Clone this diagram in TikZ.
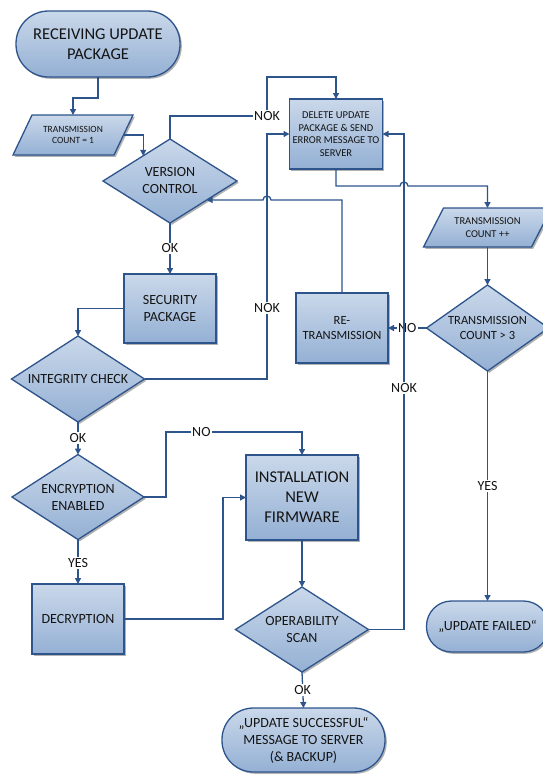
\documentclass[tikz,border=0pt]{standalone}
\usepackage{fontspec}
\setmainfont{Carlito}
\usetikzlibrary{shapes.geometric,shadows,arrows.meta,calc,backgrounds}
\definecolor{bd}{RGB}{46,84,140}
\definecolor{ftop}{RGB}{202,216,234}
\definecolor{fbot}{RGB}{148,176,212}
\definecolor{txt}{RGB}{20,20,20}
\newcommand{\FBig}{\fontsize{16.5}{20}\selectfont}
\newcommand{\FMed}{\fontsize{14}{17}\selectfont}
\newcommand{\FSm}{\fontsize{12.5}{15}\selectfont}
\newcommand{\FXs}{\fontsize{10.5}{12.6}\selectfont}
\newcommand{\FXxs}{\fontsize{9.5}{11.7}\selectfont}
\tikzset{
  shapebase/.style={draw=bd, line width=1.3pt, top color=ftop, bottom color=fbot,
    drop shadow={shadow xshift=1.8pt, shadow yshift=-1.8pt, fill=black, opacity=0.3}},
  base/.style={shapebase, align=center, inner sep=0pt, outer sep=0pt, text=txt},
  procbox/.style={base, rectangle},
  decis/.style={base, diamond},
  term/.style={base, rectangle},
  txtonly/.style={rectangle, align=center, inner sep=0pt, outer sep=0pt, text=txt},
  lbl/.style={fill=white, inner sep=1.2pt, font=\FMed, text=txt},
  arr/.style={draw=bd, line width=1.3pt, -{Triangle[length=6pt,width=6pt]}}
}
\begin{document}
\begin{tikzpicture}[x=1pt,y=-1pt]
\useasboundingbox (0,0) rectangle (543,774);

% nodes
\node[term, minimum width=164pt, minimum height=66pt, rounded corners=32.5pt, font=\FBig] (start) at (98,44) {RECEIVING UPDATE\\PACKAGE};
\node[txtonly, minimum width=101pt, minimum height=40pt, font=\FXxs] (tc1) at (73,135) {TRANSMISSION\\COUNT = 1};
\node[decis, minimum width=134pt, minimum height=84pt, aspect=1.6, font=\FMed] (vc) at (170,181) {VERSION\\CONTROL};
\node[procbox, minimum width=93pt, minimum height=70pt, font=\FXs] (del) at (336,134) {DELETE UPDATE\\PACKAGE \& SEND\\ERROR MESSAGE TO\\SERVER};
\node[txtonly, minimum width=108pt, minimum height=39pt, font=\FXs] (tcpp) at (487.5,227.5) {TRANSMISSION\\COUNT ++};
\node[decis, minimum width=122pt, minimum height=86pt, aspect=1.42, font=\FSm] (tcg) at (487.5,328) {TRANSMISSION\\COUNT > 3};
\node[procbox, minimum width=92pt, minimum height=70pt, font=\FSm] (rt) at (342,328) {RE-\\TRANSMISSION};
\node[procbox, minimum width=92pt, minimum height=69pt, font=\FMed] (sec) at (170,308.5) {SECURITY\\PACKAGE};
\node[decis, minimum width=133pt, minimum height=86pt, aspect=1.55, font=\FMed] (ic) at (78,379) {INTEGRITY CHECK};
\node[decis, minimum width=132pt, minimum height=85pt, aspect=1.55, font=\FMed] (enc) at (78,497) {ENCRYPTION\\ENABLED};
\node[procbox, minimum width=92pt, minimum height=70pt, font=\FMed] (dec) at (78,619) {DECRYPTION};
\node[procbox, minimum width=112pt, minimum height=85pt, font=\FBig] (inst) at (302,497.5) {INSTALLATION\\NEW\\FIRMWARE};
\node[decis, minimum width=133pt, minimum height=85pt, aspect=1.56, font=\FMed] (os) at (302,629.5) {OPERABILITY\\SCAN};
\node[term, minimum width=163pt, minimum height=64pt, rounded corners=31.5pt, font=\FMed] (us) at (303.5,740) {„UPDATE SUCCESSFUL“\\MESSAGE TO SERVER\\(\& BACKUP)};
\node[term, minimum width=122pt, minimum height=51pt, rounded corners=25pt, font=\FMed] (uf) at (487.5,626.5) {„UPDATE FAILED“};

% parallelogram outlines and white page on the background layer
\begin{scope}[on background layer]
\fill[white] (0,0) rectangle (543,774);
\path[shapebase] ($(tc1.south west)+(-9.5,0)$) -- ($(tc1.south east)+(-9.5,0)$) -- ($(tc1.north east)+(9.5,0)$) -- ($(tc1.north west)+(9.5,0)$) -- cycle;
\path[shapebase] ($(tcpp.south west)+(-10,0)$) -- ($(tcpp.south east)+(-10,0)$) -- ($(tcpp.north east)+(10,0)$) -- ($(tcpp.north west)+(10,0)$) -- cycle;
\end{scope}

% connectors
\draw[arr] (start.south) -- (98,98) -| (tc1.north);
\draw[arr] (tc1.east) -| ($(vc.north)!0.4!(vc.west)$);
\coordinate (k1) at (267,116);
\draw[arr] (vc.north) |- (k1) |- (336,77) -- (del.north);
\node[lbl] at (k1) {NOK};
\draw[arr] (vc.south) -- node[lbl]{OK} (sec.north);
\draw[arr] (sec.west) -| (ic.north);
\draw[arr] (ic.east) -- (267,379) -- node[lbl,pos=0.29]{NOK} (267,134) -- (del.west);
\coordinate (p7) at ($(vc.east)!0.452!(vc.south)$);
\draw[arr] (rt.north) -- (342,200) -- (271,200) arc[start angle=0, end angle=180, radius=4pt] -- (p7);
\draw[arr] (del.south) -- (336,186) -- (400,186) arc[start angle=180, end angle=0, radius=4pt] -- (487.5,186) -- (tcpp.north);
\draw[arr] (tcpp.south) -- (tcg.north);
\draw[arr] (tcg.west) -- node[lbl]{NO} (rt.east);
\draw[arr] (tcg.south) -- node[lbl]{YES} (uf.north);
\draw[arr] (ic.south) -- node[lbl]{OK} (enc.north);
\draw[arr] (enc.south) -- node[lbl,pos=0.53]{YES} (dec.north);
\draw[arr] (enc.east) -- (166,497) -- (166,432) -- node[lbl,pos=0.26]{NO} (302,432) -- (inst.north);
\draw[arr] (dec.east) -- (223,619) |- (inst.west);
\draw[arr] (inst.south) -- (os.north);
\draw[arr] (os.east) -- (404,629.5) -- node[lbl,pos=0.487]{NOK} (404,134) -- (del.east);
\draw[arr] (os.south) -- node[lbl]{OK} (us.north);
\end{tikzpicture}
\end{document}
